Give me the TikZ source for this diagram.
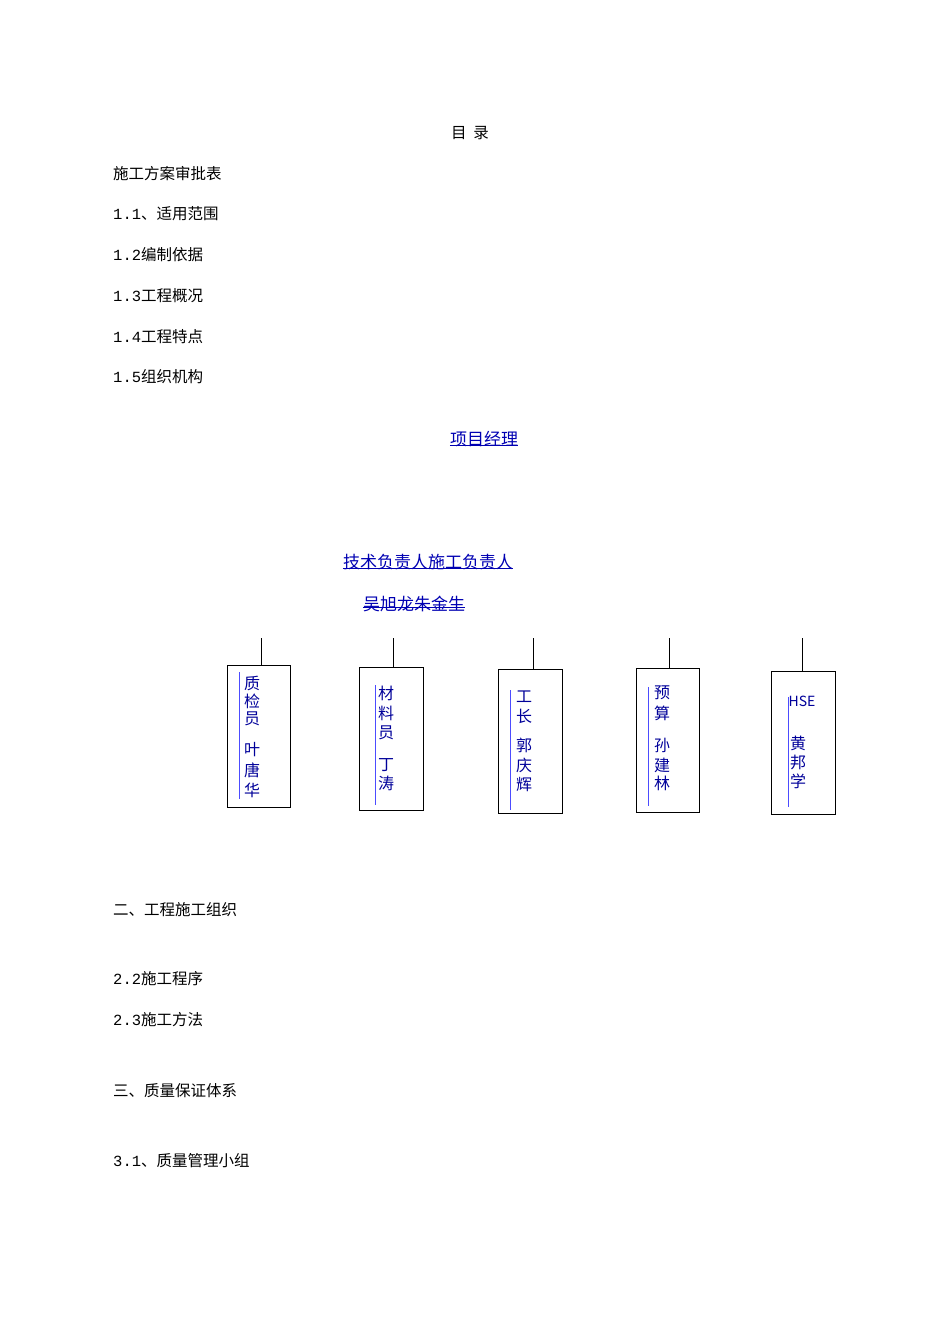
\documentclass[tikz,border=0pt]{standalone}
\usepackage{fontspec}
\setmainfont{Noto Sans CJK SC}
\newfontfamily\monofnt{Liberation Mono}
\newcommand{\dg}[1]{{\monofnt #1}}
\begin{document}
\begin{tikzpicture}[x=1pt,y=-1pt,
  txt/.style={anchor=west,inner sep=0pt,font=\fontsize{15.5}{15}\selectfont},
  blu/.style={inner sep=0pt,text=blue!70!black,font=\fontsize{17}{17}\selectfont},
  ch/.style={inner sep=0pt,text=blue!60!black,font=\fontsize{16}{16}\selectfont},
  box/.style={draw,line width=1pt},
  bl/.style={draw=blue!70,line width=0.8pt}]
\useasboundingbox (0,0) rectangle (950,1344);
\node[inner sep=0pt,font=\fontsize{15.5}{15}\selectfont] (t) at (470,133) {目\ \ 录};
\node[txt] (a1) at (113,174) {施工方案审批表};
\node[txt] (a2) at (113,214) {\dg{1.1}、适用范围};
\node[txt] (a3) at (113,255) {\dg{1.2}编制依据};
\node[txt] (a4) at (113,296) {\dg{1.3}工程概况};
\node[txt] (a5) at (113,337) {\dg{1.4}工程特点};
\node[txt] (a6) at (113,377) {\dg{1.5}组织机构};
\node[txt] (b1) at (113,910) {二、工程施工组织};
\node[txt] (b2) at (113,979) {\dg{2.2}施工程序};
\node[txt] (b3) at (113,1020) {\dg{2.3}施工方法};
\node[txt] (b4) at (113,1091) {三、质量保证体系};
\node[txt] (b5) at (113,1161) {\dg{3.1}、质量管理小组};
\node[blu] (pm) at (484,439) {项目经理};
\draw[blue!70!black] ([yshift=2pt]pm.south west) -- ([yshift=2pt]pm.south east);
\node[blu] (tl) at (428,562) {技术负责人施工负责人};
\draw[blue!70!black] ([yshift=2pt]tl.south west) -- ([yshift=2pt]tl.south east);
\node[blu] (nm) at (414,604) {吴旭龙朱金生};
\draw[blue!70!black] ([yshift=-3pt]nm.west) -- ([yshift=-3pt]nm.east);
% boxes
\foreach \n/\l/\t/\r/\b/\c/\bx/\by/\be in {1/227/665/290/807/261/239/672/799, 2/359/667/423/810/393/375/685/805, 3/498/669/562/813/533/510/690/810, 4/636/668/699/812/669/648/687/806, 5/771/671/835/814/802/788/697/807}{
  \draw[box] (\l,\t) rectangle (\r,\b);
  \coordinate (top\n) at (\c,638);
  \coordinate (bt\n) at (\c,\t);
  \draw (top\n) -- (bt\n);
  \draw[bl] (\bx,\by) -- (\bx,\be);
}
\foreach \x/\y/\s in {252/683/质,252/701/检,252/719/员,252/750/叶,252/770/唐,252/790/华,
  386/693/材,386/713/料,386/733/员,386/765/丁,386/783/涛,
  524/697/工,524/716/长,524/745/郭,524/765/庆,524/785/辉,
  662/693/预,662/713/算,662/745/孙,662/765/建,662/783/林,
  798/743/黄,798/762/邦,798/781/学}{\node[ch] at (\x,\y) {\s};}
\node[ch,font=\fontsize{14}{14}\selectfont] (hse) at (802,701) {HSE};
\end{tikzpicture}
\end{document}
